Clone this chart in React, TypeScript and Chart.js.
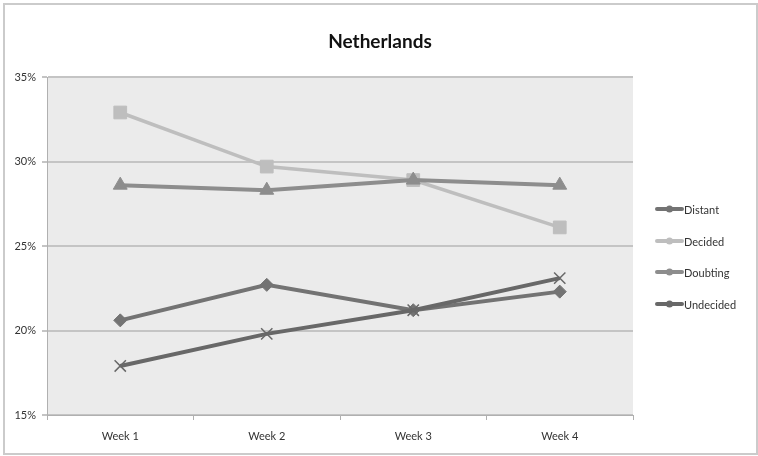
import React, { useEffect, useRef } from "react";
import { Chart, registerables } from "chart.js";

Chart.register(...registerables);

const weeks = ["Week 1", "Week 2", "Week 3", "Week 4"];
const distant = [20.6, 22.7, 21.2, 22.3];
const decided = [32.9, 29.7, 28.9, 26.1];
const doubting = [28.6, 28.3, 28.9, 28.6];
const undecided = [17.9, 19.8, 21.2, 23.1];
const seriesNames = ["Distant", "Decided", "Doubting", "Undecided"];
const chartTitle = "Netherlands";

const FONT = "Lato, 'Open Sans', sans-serif";

export default function App() {
  const ref = useRef<HTMLCanvasElement | null>(null);

  useEffect(() => {
    if (!ref.current) return;
    const colors = ["#737373", "#bebebe", "#8d8d8d", "#686868"];
    const styles = ["rectRot", "rect", "triangle", "crossRot"];
    const radii = [6.5, 9, 8, 8];
    const values = [distant, decided, doubting, undecided];

    const decor = {
      id: "decor",
      beforeDraw(chart: any) {
        const { ctx, chartArea } = chart;
        ctx.save();
        ctx.fillStyle = "#ffffff";
        ctx.fillRect(0, 0, chart.width, chart.height);
        ctx.fillStyle = "#ebebeb";
        ctx.fillRect(chartArea.left, chartArea.top, chartArea.right - chartArea.left, chartArea.bottom - chartArea.top);
        ctx.strokeStyle = "#cbcbcb";
        ctx.lineWidth = 2;
        ctx.strokeRect(4, 4, 753, 450);
        ctx.restore();
      },
      afterDraw(chart: any) {
        const { ctx } = chart;
        ctx.save();
        ctx.fillStyle = "#111111";
        ctx.font = "bold 19px " + FONT;
        ctx.textAlign = "center";
        ctx.textBaseline = "middle";
        ctx.fillText(chartTitle, 380, 42);
        // legend
        const ys = [209, 241, 272, 304];
        seriesNames.forEach((name, i) => {
          const y = ys[i];
          ctx.strokeStyle = colors[i];
          ctx.lineWidth = 4;
          ctx.lineCap = "round";
          ctx.beginPath();
          ctx.moveTo(657, y);
          ctx.lineTo(682, y);
          ctx.stroke();
          ctx.fillStyle = colors[i];
          ctx.beginPath();
          ctx.arc(669.5, y, 3.5, 0, Math.PI * 2);
          ctx.fill();
          ctx.fillStyle = "#333333";
          ctx.font = "11px " + FONT;
          ctx.textAlign = "left";
          ctx.fillText(name, 684, y + 1);
        });
        ctx.restore();
      },
    };

    const chart = new Chart(ref.current, {
      type: "line",
      data: {
        labels: weeks,
        datasets: values.map((v, i) => ({
          label: seriesNames[i],
          data: v,
          borderColor: colors[i],
          backgroundColor: colors[i],
          borderWidth: i === 1 ? 3.5 : 4,
          pointStyle: styles[i] as any,
          pointRadius: radii[i],
          pointBorderWidth: i === 3 ? 1.5 : 1,
          pointBorderColor: colors[i],
          pointBackgroundColor: colors[i],
          tension: 0,
          order: 4 - i,
        })),
      },
      options: {
        responsive: false,
        animation: false,
        layout: { padding: { left: 0, right: 125, top: 77, bottom: 0 } },
        plugins: {
          legend: { display: false },
          title: { display: false },
          tooltip: { enabled: false },
        },
        scales: {
          x: {
            type: "category",
            offset: true,
            grid: {
              display: true,
              drawOnChartArea: false,
              drawTicks: true,
              tickLength: 5,
              offset: true,
              color: "#b0b0b0",
            },
            border: { display: true, color: "#b0b0b0", width: 1 },
            ticks: { color: "#333333", font: { family: FONT, size: 11 }, padding: 10, maxRotation: 0 },
            afterFit(scale: any) {
              scale.height = 41;
            },
          },
          y: {
            min: 15,
            max: 35,
            ticks: {
              stepSize: 5,
              color: "#333333",
              font: { family: FONT, size: 11 },
              padding: 6,
              callback: (v: any) => v + "%",
            },
            grid: { color: "#c4c4c4", lineWidth: 2, tickLength: 5, drawTicks: true },
            border: { display: true, color: "#b0b0b0", width: 1 },
            afterFit(scale: any) {
              scale.width = 47;
            },
          },
        },
      },
      plugins: [decor],
    });
    return () => chart.destroy();
  }, []);

  return (
    <div style={{ position: "fixed", left: 0, top: 0, width: 758, height: 456 }}>
      <canvas ref={ref} width={758} height={456} style={{ display: "block" }} />
    </div>
  );
}
